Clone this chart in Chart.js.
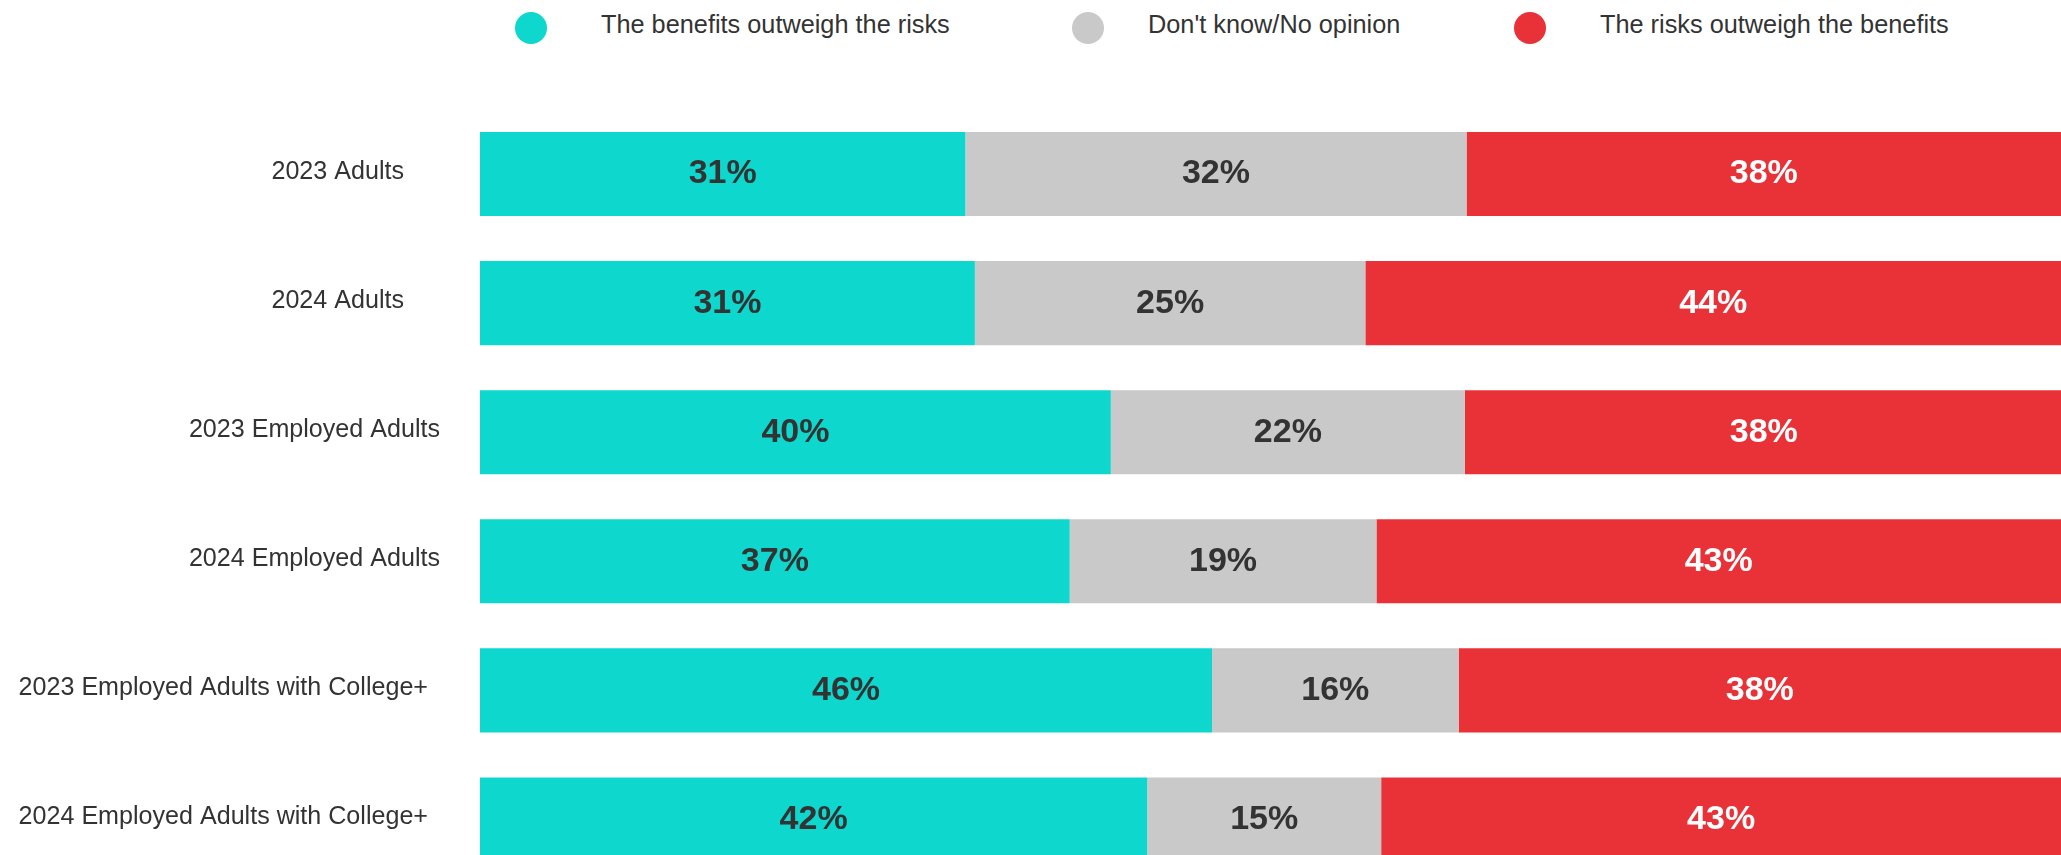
<!DOCTYPE html>
<html lang="en">
<head>
    <meta charset="UTF-8">
    <title>Benefits vs risks</title>
    <script src="https://cdn.jsdelivr.net/npm/chart.js"></script>
    <style>
        body { margin: 0; overflow: hidden; background: #fff; font-family: "Liberation Sans", Arial, sans-serif; color: #333; }
        #wrap { position: absolute; left: 0; top: 0; width: 2061px; height: 884px; }
        .dot { position: absolute; top: 12px; width: 32px; height: 32px; border-radius: 50%; }
        .txt { position: absolute; top: 8px; font-size: 25.3px; line-height: 32px; white-space: nowrap; }
    </style>
</head>
<body>
    <!-- legend -->
    <span class="dot" style="left:515px;background:#0ed7ce"></span>
    <span class="txt" style="left:601px">The benefits outweigh the risks</span>
    <span class="dot" style="left:1072px;background:#c9c9c9"></span>
    <span class="txt" style="left:1148px">Don't know/No opinion</span>
    <span class="dot" style="left:1514px;background:#e83238"></span>
    <span class="txt" style="left:1600px">The risks outweigh the benefits</span>

    <div id="wrap"><canvas id="chart"></canvas></div>

    <script>
        // data (shares in %, labels show them rounded)
        const categories = ['2023 Adults', '2024 Adults', '2023 Employed Adults', '2024 Employed Adults',
            '2023 Employed Adults with College+', '2024 Employed Adults with College+'];
        const benefits = [30.7, 31.3, 39.9, 37.3, 46.3, 42.2];
        const dontKnow = [31.7, 24.7, 22.4, 19.4, 15.6, 14.8];
        const risks = [37.6, 44.0, 37.8, 43.3, 38.1, 43.0];

        // right edge of each category label
        const labelRight = [404, 404, 440, 440, 428, 428];

        const barLabels = {
            id: 'barLabels',
            afterDatasetsDraw(chart) {
                const ctx = chart.ctx;
                ctx.save();
                ctx.font = 'bold 34px "Liberation Sans", Arial, sans-serif';
                ctx.textAlign = 'center';
                ctx.textBaseline = 'middle';
                chart.data.datasets.forEach((ds, di) => {
                    chart.getDatasetMeta(di).data.forEach((bar, i) => {
                        ctx.fillStyle = ds.labelColor;
                        ctx.fillText(Math.round(ds.data[i]) + '%', (bar.x + bar.base) / 2, bar.y);
                    });
                });
                // category names
                ctx.font = '25.1px "Liberation Sans", Arial, sans-serif';
                ctx.textAlign = 'right';
                ctx.fillStyle = '#333';
                const y = chart.scales.y;
                categories.forEach((c, i) => {
                    ctx.fillText(c, labelRight[i], y.getPixelForValue(i) - 2);
                });
                ctx.restore();
            }
        };

        const ctx = document.getElementById('chart').getContext('2d');
        new Chart(ctx, {
            type: 'bar',
            data: {
                labels: categories,
                datasets: [
                    { label: 'The benefits outweigh the risks', data: benefits, backgroundColor: '#0ed7ce', labelColor: '#333' },
                    { label: "Don't know/No opinion", data: dontKnow, backgroundColor: '#c9c9c9', labelColor: '#333' },
                    { label: 'The risks outweigh the benefits', data: risks, backgroundColor: '#e83238', labelColor: '#fff' }
                ]
            },
            options: {
                indexAxis: 'y',
                responsive: true,
                maintainAspectRatio: false,
                animation: false,
                layout: { padding: { left: 480, top: 109.5, right: 0, bottom: 0 } },
                datasets: { bar: { barPercentage: 1, categoryPercentage: 84 / 129, borderWidth: 0 } },
                scales: {
                    x: { stacked: true, min: 0, max: 100, display: false },
                    y: { stacked: true, display: false }
                },
                plugins: {
                    legend: { display: false },
                    tooltip: { enabled: false }
                }
            },
            plugins: [barLabels]
        });
    </script>
</body>
</html>
